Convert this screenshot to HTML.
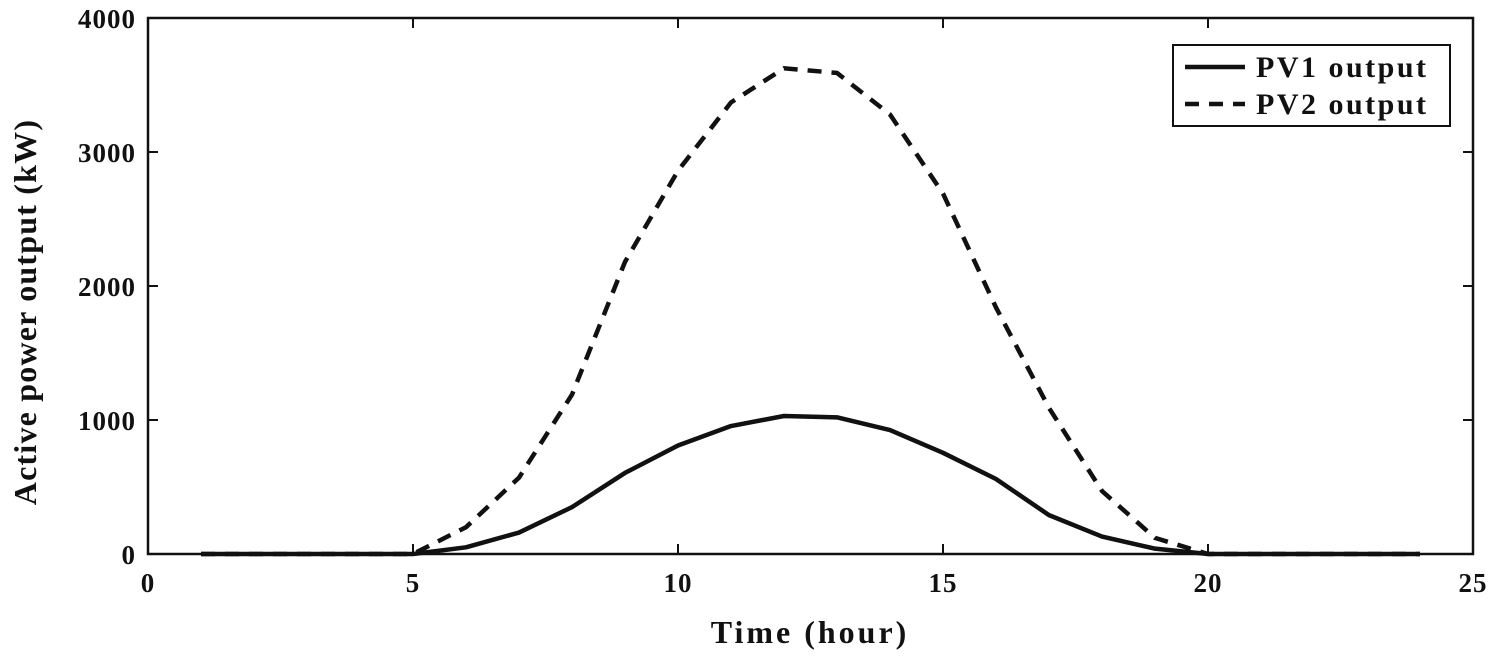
<!DOCTYPE html>
<html><head><meta charset="utf-8"><style>
body{margin:0;background:#fff}
svg text{font-family:"Liberation Serif",serif;font-weight:bold;fill:#111}
</style></head><body>
<svg width="1499" height="660">
<g id="plot"></g>
</svg>
<script>
const hours=[1,2,3,4,5,6,7,8,9,10,11,12,13,14,15,16,17,18,19,20,21,22,23,24];
const pv1=[0,0,0,0,0,50,160,350,605,810,955,1030,1020,925,755,560,290,130,40,0,0,0,0,0];
const pv2=[0,0,0,0,0,200,570,1190,2180,2860,3370,3625,3590,3280,2690,1840,1090,470,120,0,0,0,0,0];
const xTicks=[0,5,10,15,20,25];
const yTicks=[0,1000,2000,3000,4000];
const L=148,R=1473,T=18,B=554;
const xs=v=>L+(v-0)/25*(R-L), ys=v=>B-v/4000*(B-T);
const g=document.getElementById('plot'),NS='http://www.w3.org/2000/svg';
function mk(t,a,p){const e=document.createElementNS(NS,t);for(const k in a)e.setAttribute(k,a[k]);(p||g).appendChild(e);return e;}
const frame=mk('rect',{x:L,y:T,width:R-L,height:B-T,fill:'none',stroke:'#111','stroke-width':2.5});


xTicks.forEach(v=>{const x=xs(v);
 const t1=mk('line',{x1:x,x2:x,y1:B,y2:B-10,stroke:'#111','stroke-width':2});
 
 
 const t2=mk('line',{x1:x,x2:x,y1:T,y2:T+10,stroke:'#111','stroke-width':2});
 
 
 const tx=mk('text',{x:x,y:B+38,'text-anchor':'middle','font-size':27,'letter-spacing':1});tx.textContent=v;
 
 
});
yTicks.forEach(v=>{const y=ys(v);
 const t1=mk('line',{x1:L,x2:L+10,y1:y,y2:y,stroke:'#111','stroke-width':2});
 
 
 const t2=mk('line',{x1:R,x2:R-10,y1:y,y2:y,stroke:'#111','stroke-width':2});
 
 
 const tx=mk('text',{x:L-12,y:y+10,'text-anchor':'end','font-size':27,'letter-spacing':1});tx.textContent=v;
 
 
});
const p1=mk('polyline',{points:hours.map((h,i)=>xs(h)+','+ys(pv1[i])).join(' '),fill:'none',stroke:'#111','stroke-width':4.5,'stroke-linejoin':'round'});


const p2=mk('polyline',{points:hours.map((h,i)=>xs(h)+','+ys(pv2[i])).join(' '),fill:'none',stroke:'#111','stroke-width':4.5,'stroke-dasharray':'14,10'});


const xt=mk('text',{x:810,y:643,'text-anchor':'middle','font-size':32,'letter-spacing':3});xt.textContent='Time (hour)';


const yt=mk('text',{x:0,y:0,'text-anchor':'middle','font-size':32,'letter-spacing':1.2,transform:'translate(36,312) rotate(-90)'});yt.textContent='Active power output (kW)';


const lg=mk('rect',{x:1173,y:45,width:277,height:81,fill:'#fff',stroke:'#111','stroke-width':2});


[['PV1 output',null,67],['PV2 output','14,10',104]].forEach(([n,d,y])=>{
 const a={x1:1185,x2:1245,y1:y,y2:y,stroke:'#111','stroke-width':4.5};if(d)a['stroke-dasharray']=d;
 const l=mk('line',a);
 
 
 const t=mk('text',{x:1256,y:y+10,'font-size':30,'letter-spacing':2.5});t.textContent=n;
 
 
});
</script>
</body></html>
